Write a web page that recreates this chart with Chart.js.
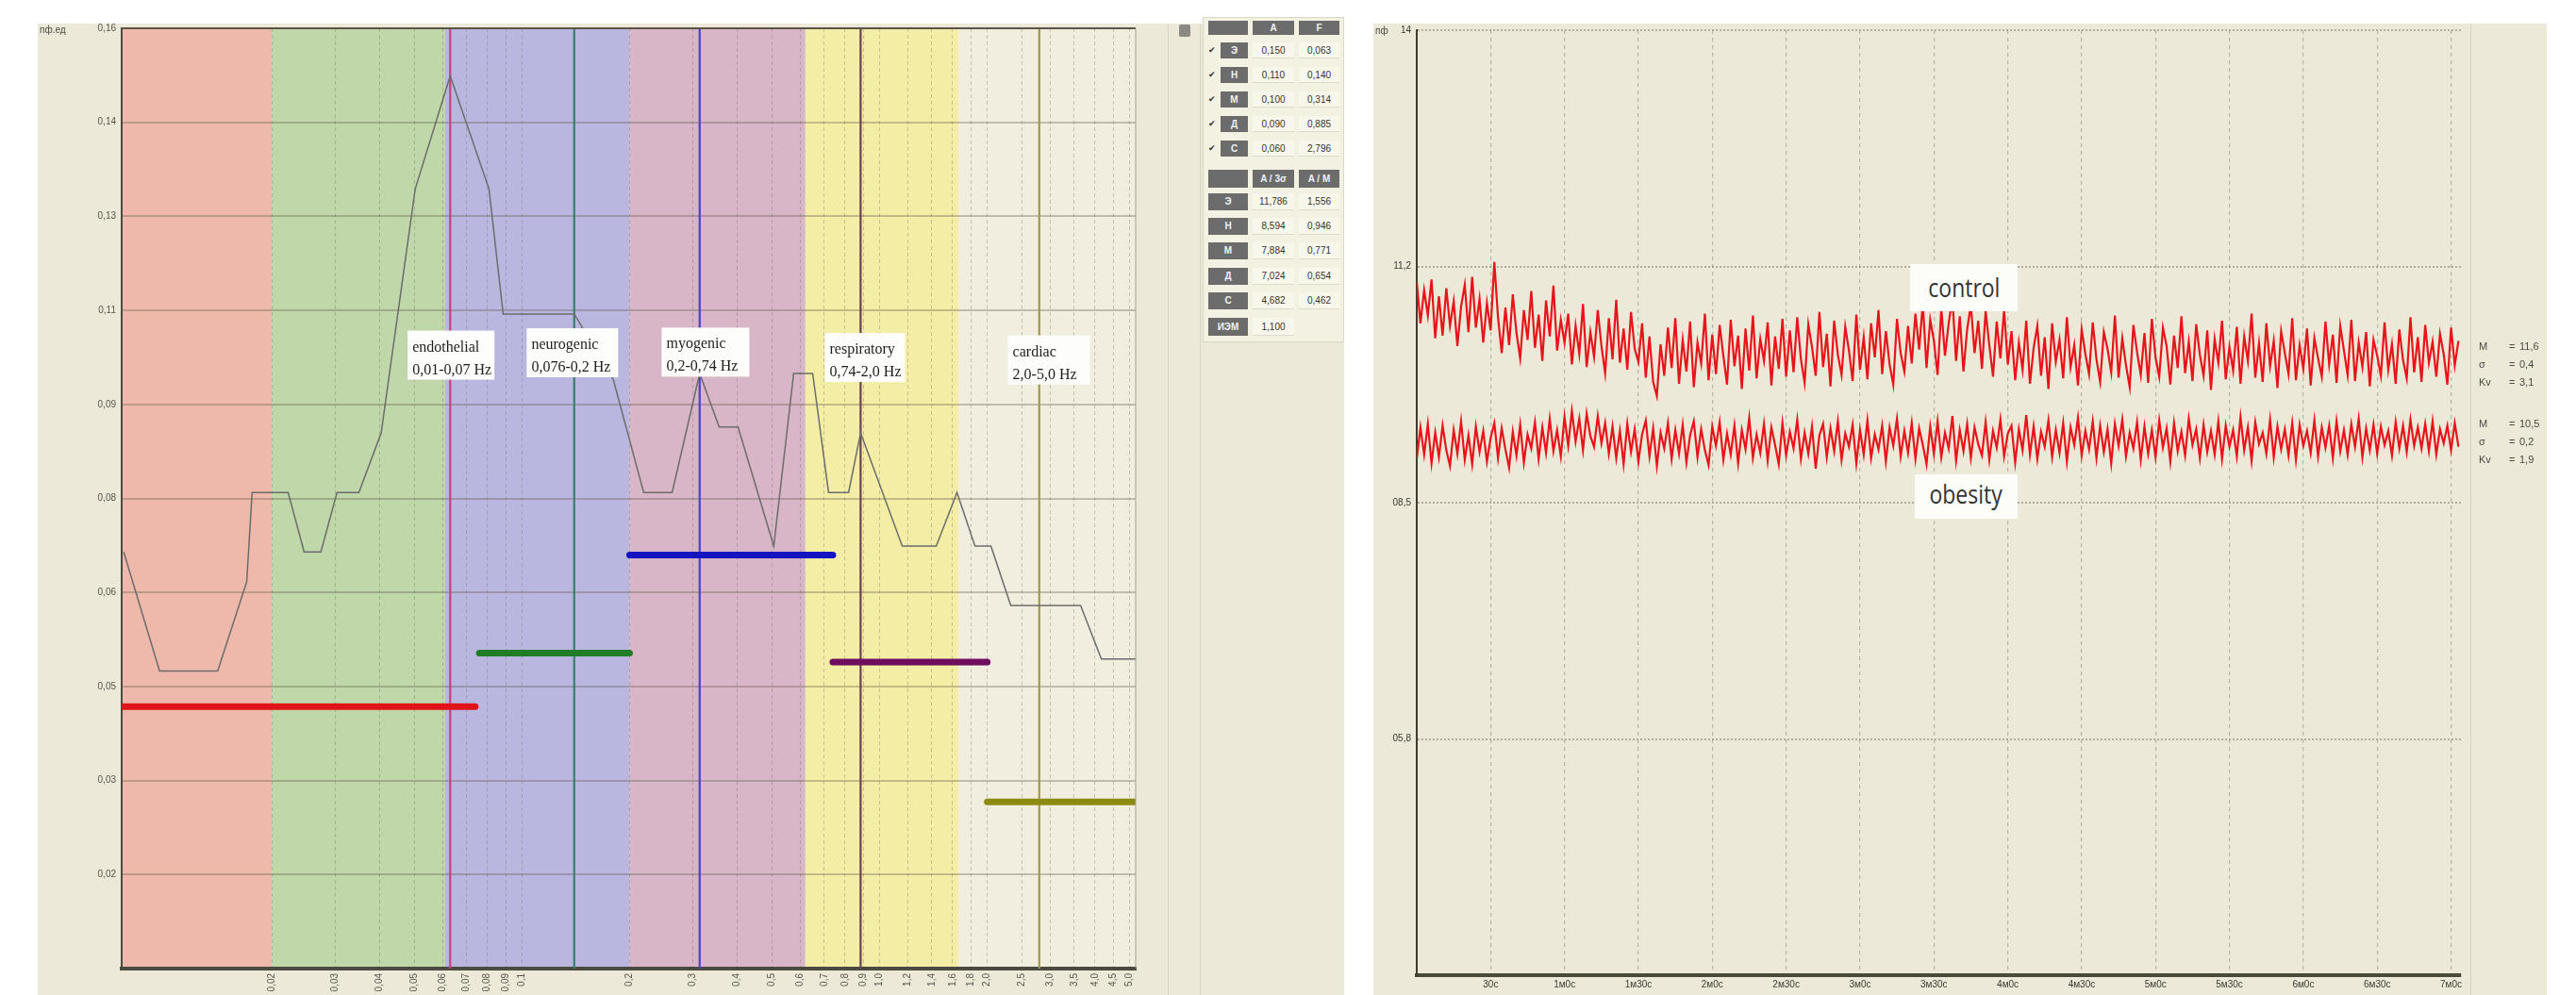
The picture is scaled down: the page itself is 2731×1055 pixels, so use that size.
<!DOCTYPE html>
<html lang="ru">
<head>
<meta charset="utf-8">
<title>ЛДФ: вейвлет-спектр и ПМ</title>
<script src="https://cdn.jsdelivr.net/npm/chart.js@4.4.1/dist/chart.umd.min.js"></script>
<style>
  html, body { margin: 0; padding: 0; background: #fff; }
  body { width: 2731px; height: 1055px; position: relative; overflow: hidden;
         font-family: "Liberation Sans", Arial, sans-serif; }
  .panel { position: absolute; background: #ece9d8; }
  #leftPanel { left: 40px; top: 25px; width: 1385px; height: 1030px; }
  #rightPanel { left: 1456px; top: 25px; width: 1244px; height: 1030px; }
  canvas { position: absolute; }
  #spectrumCanvas { left: 40px; top: 25px; }
  #traceCanvas { left: 1456px; top: 25px; }
  .txt { position: absolute; color: #4a4a44; font-size: 11px; white-space: nowrap; }
  .vline { position: absolute; width: 1px; background: rgba(0,0,0,0.09); }
  #bandTable { position: absolute; left: 1275px; top: 18px; width: 150px; height: 345px;
               background: #f3f1e1; border: 1px solid #dad7c3; box-sizing: border-box; }
  .cell { position: absolute; box-sizing: border-box; font-size: 10px; line-height: 17px;
          text-align: center; color: #333; }
  .cell.dark { background: #6c6c6c; color: #f2f2f2; font-weight: bold; }
  .cell.light { background: #f8f7ec; border-bottom: 1px solid #dcdac8; }
  .chk { position: absolute; font-size: 9px; color: #333; }
  .tag { position: absolute; background: #fcfcf8; color: #333; font-family: "Open Sans", sans-serif;
         font-size: 28px; text-align: center; }
  .tag span { display: inline-block; transform: scaleX(0.82); }
</style>
</head>
<body>
<div class="panel" id="leftPanel"></div>
<div class="panel" id="rightPanel"></div>
<div class="vline" style="left:1238px; top:25px; height:1030px;"></div>
<div class="vline" style="left:1272px; top:25px; height:1030px;"></div>
<div class="vline" style="left:2619px; top:25px; height:1030px;"></div>

<canvas id="spectrumCanvas" width="1220" height="1030" style="width:1220px;height:1030px;"></canvas>
<canvas id="traceCanvas" width="1244" height="1030" style="width:1244px;height:1030px;"></canvas>

<div class="txt" style="left:42px; top:26px; font-size:10px;">пф.ед</div>
<div class="txt" style="left:1458px; top:27px; font-size:10px;">пф</div>
<div style="position:absolute; left:1250px; top:26px; width:12px; height:13px; background:#8a8a82; border-radius:2px;"></div>

<div id="bandTable"></div>
<div id="tags"></div>
<div id="stats"></div>

<script>
// ---------- left: wavelet amplitude spectrum ----------
const bandEdges = [0.0076, 0.02, 0.061, 0.2, 0.62, 1.66, 5.2];

const spectrumFreq = [0.0077, 0.0097, 0.0141, 0.0170, 0.0176, 0.0222, 0.0246, 0.0274, 0.0304, 0.0350,
                      0.0404, 0.0503, 0.063, 0.0809, 0.0886, 0.140, 0.180, 0.219, 0.263, 0.314,
                      0.356, 0.402, 0.506, 0.575, 0.650, 0.720, 0.819, 0.885, 1.157, 1.440,
                      1.646, 1.848, 2.048, 2.327, 3.648, 4.170, 5.20];
const spectrumAmp = [0.070, 0.050, 0.050, 0.065, 0.080, 0.080, 0.070, 0.070, 0.080, 0.080,
                     0.090, 0.131, 0.150, 0.131, 0.110, 0.110, 0.099, 0.080, 0.080, 0.100,
                     0.091, 0.091, 0.071, 0.100, 0.100, 0.080, 0.080, 0.090, 0.071, 0.071,
                     0.080, 0.071, 0.071, 0.061, 0.061, 0.052, 0.052];

const bandNames = ['endothelial', 'neurogenic', 'myogenic', 'respiratory', 'cardiac'];
const bandRanges = ['0,01-0,07 Hz', '0,076-0,2 Hz', '0,2-0,74 Hz', '0,74-2,0 Hz', '2,0-5,0 Hz'];
const bandCodes = ['Э', 'Н', 'М', 'Д', 'С'];

// mean level per band (thick bars)
const levelFrom = [0.0076, 0.076, 0.2, 0.74, 2.0];
const levelTo = [0.074, 0.2, 0.74, 2.0, 5.2];
const levelAmp = [0.044, 0.053, 0.0695, 0.0515, 0.028];

// band maxima (vertical lines + table)
const peakAmp = [0.150, 0.110, 0.100, 0.090, 0.060];
const peakFreq = [0.063, 0.140, 0.314, 0.885, 2.796];

const normBy3Sigma = ['11,786', '8,594', '7,884', '7,024', '4,682'];
const normByMean = ['1,556', '0,946', '0,771', '0,654', '0,462'];
const indexName = 'ИЭМ';
const indexValue = '1,100';

const leftYMax = 0.158;
const leftYTicks = [0, 0.0158, 0.0316, 0.0474, 0.0632, 0.079, 0.0948, 0.1106, 0.1264, 0.1422, 0.158];
const leftYTickLabels = ['', '0,02', '0,03', '0,05', '0,06', '0,08', '0,09', '0,11', '0,13', '0,14', '0,16'];
const leftXTicks = [0.02, 0.03, 0.04, 0.05, 0.06, 0.07, 0.08, 0.09, 0.1, 0.2, 0.3, 0.4, 0.5, 0.6, 0.7,
                    0.8, 0.9, 1, 1.2, 1.4, 1.6, 1.8, 2, 2.5, 3, 3.5, 4, 4.5, 5];
const leftXTickLabels = ['0,02', '0,03', '0,04', '0,05', '0,06', '0,07', '0,08', '0,09', '0,1', '0,2',
                         '0,3', '0,4', '0,5', '0,6', '0,7', '0,8', '0,9', '1,0', '1,2', '1,4', '1,6',
                         '1,8', '2,0', '2,5', '3,0', '3,5', '4,0', '4,5', '5,0'];

// ---------- right: perfusion records ----------
const sampleStep = 1.5; // s
const controlPM = [
  11.02, 10.55, 10.93, 10.64, 11.05,
  10.38, 10.86, 10.41, 10.95, 10.52, 10.80, 10.29, 10.74, 10.99, 10.45, 11.08, 10.50, 10.83, 10.33, 10.78, 10.47,
  11.25,
  10.62, 10.21, 10.73, 10.30, 10.88, 10.44, 10.15, 10.70, 10.36, 10.92, 10.27, 10.65, 10.12, 10.81, 10.40, 10.98, 10.24, 10.59, 10.33,
  10.66, 10.08, 10.52, 10.20, 10.77, 10.05, 10.45, 10.17, 10.70, 10.29, 9.98, 10.61, 10.14, 10.82, 10.10, 10.49, 10.02, 10.68, 10.26, 10.11,
  10.55, 9.93, 10.40, 9.88, 9.72, 10.31, 9.95, 10.50, 10.04, 10.61, 9.86, 10.36, 10.00, 10.57, 9.82, 10.33, 10.09, 10.66, 9.90, 10.42,
  9.97, 10.53, 10.18, 9.85, 10.59, 10.06, 10.41, 9.80, 10.49, 10.01, 10.64, 9.92, 10.37, 10.12, 10.56, 9.84, 10.40, 10.03, 10.60, 9.94,
  10.47, 9.99, 10.62, 10.14, 9.87, 10.54, 10.28, 9.95, 10.68, 10.05, 10.43, 9.83, 10.58, 10.19, 9.96, 10.51, 10.24, 9.89, 10.65, 10.02,
  10.39, 9.91, 10.55, 10.16, 10.70, 9.97, 10.46, 10.08, 9.85, 10.60, 10.21, 10.00, 10.52,
  10.09, 10.66, 10.25, 10.78, 10.04, 10.59, 10.35, 9.96, 10.72, 10.18, 10.55, 10.84, 10.12, 10.63, 10.00, 10.48, 10.76, 10.21, 10.58, 10.03,
  10.69, 10.30, 9.94, 10.57, 10.15, 10.71, 10.08,
  10.46, 9.90, 10.33, 10.02, 10.58, 9.86, 10.27, 10.52, 9.95, 10.39, 9.80, 10.55, 10.11, 10.36, 9.92, 10.62, 10.05, 10.30, 9.84, 10.48,
  10.20, 9.97, 10.56, 10.14, 9.88, 10.45, 10.26, 9.99, 10.64, 9.93, 10.38, 10.07, 9.82, 10.53, 10.22, 9.96, 10.44, 9.87, 10.60, 10.16,
  9.94, 10.50, 10.29, 9.85, 10.41, 10.04, 10.63, 9.98, 10.34, 9.89, 10.54, 10.19, 9.95, 10.47, 9.79, 10.37, 10.10, 10.58, 9.91, 10.28,
  10.01, 10.51, 9.86, 10.40, 10.12, 10.66, 9.93, 10.32, 9.88, 10.55, 10.06, 10.35, 9.81, 10.46, 10.21, 9.97, 10.61, 9.90, 10.30, 10.03,
  10.49, 9.84, 10.38, 10.15, 9.94, 10.57, 10.08, 10.42, 9.87, 10.52, 10.24, 9.96, 10.59, 9.89, 10.33, 10.05, 10.45, 9.83, 10.36, 10.18,
  9.95, 10.56, 10.02, 10.31, 9.86, 10.48, 10.13, 9.92, 10.62, 9.99, 10.39, 9.88, 10.53, 10.10, 10.34, 9.94, 10.43, 10.20, 9.85, 10.50,
  10.07, 10.35
];
const obesityPM = [
  9.00, 9.36, 9.05, 9.40, 8.95, 9.30, 9.02, 9.38, 9.10, 8.92, 9.33, 9.06, 9.43, 8.99, 9.27, 8.94, 9.37, 9.08, 9.32, 8.97,
  9.24, 9.41, 9.01, 9.35, 9.11, 8.90, 9.31, 9.04, 9.39, 8.96, 9.28, 9.12, 9.42, 9.00, 9.36, 9.07, 9.46, 9.09, 9.33, 9.03,
  9.48, 9.15, 9.55, 9.20, 9.46, 9.10, 9.52, 9.26, 9.14, 9.49, 9.18, 9.41, 9.06,
  9.37, 9.01, 9.32, 8.94, 9.40, 9.08, 9.34, 8.97, 9.28, 9.44, 9.03, 9.35, 8.92, 9.30, 9.12, 9.41, 9.00, 9.33, 9.06, 9.39,
  8.96, 9.27, 9.43, 9.02, 9.34, 9.10, 8.93, 9.37, 9.15, 9.42, 8.99, 9.29, 9.05, 9.38, 8.95, 9.33, 9.11, 9.47, 9.01, 9.28,
  9.07, 9.40, 8.98, 9.36, 9.16, 8.94, 9.41, 9.04, 9.31, 9.12, 9.45, 9.00, 9.30, 9.06, 9.37, 8.89, 9.27, 9.40, 9.02, 9.35,
  9.09, 9.43, 8.99, 9.29, 9.14, 9.39, 8.95, 9.33, 9.05, 9.44, 9.01, 9.28, 9.11, 9.38, 8.97, 9.36, 9.15, 9.46, 9.03, 9.32,
  9.07, 9.41, 9.00, 9.35, 9.16, 8.94, 9.37, 9.06, 9.43, 9.02, 9.30, 9.12, 9.49, 8.98, 9.33, 9.09, 9.40, 9.01, 9.36, 9.17,
  9.04, 9.42, 8.99, 9.32, 9.13, 9.45, 9.03, 9.29, 9.38, 8.96, 9.34, 9.10, 9.50, 9.05, 9.37, 9.00, 9.31, 9.14, 9.44, 9.02,
  9.33, 9.07, 9.41, 8.97, 9.36, 9.16, 9.47, 9.04, 9.32, 9.11, 9.43, 9.01, 9.38, 9.08, 9.34, 8.95, 9.40, 9.15, 9.45, 9.03,
  9.30, 9.12, 9.42, 8.99, 9.37, 9.06, 9.33, 9.02, 9.44, 9.13, 9.35, 8.97, 9.41, 9.09, 9.31, 9.04, 9.46, 9.16, 9.34, 9.01,
  9.39, 9.08, 9.32, 9.05, 9.43, 9.00, 9.38, 9.14, 9.33, 9.03, 9.48, 9.10, 9.36, 8.98, 9.42, 9.17, 9.30, 9.06, 9.45, 9.02,
  9.37, 9.11, 9.34, 9.04, 9.41, 8.99, 9.39, 9.15, 9.32, 9.07, 9.44, 9.03, 9.36, 9.13, 9.38, 9.01, 9.43, 9.09, 9.33, 9.05,
  9.40, 9.14, 9.46, 9.02, 9.35, 9.10, 9.39, 9.06, 9.37, 9.16, 9.32, 9.04, 9.42, 9.12, 9.38, 9.08, 9.45, 9.15, 9.36, 9.12,
  9.40, 9.09, 9.43, 9.05, 9.34, 9.18, 9.38, 9.10, 9.41, 9.14
];
const timeTicks = [30, 60, 90, 120, 150, 180, 210, 240, 270, 300, 330, 360, 390, 420];
const timeTickLabels = ['30с', '1м0с', '1м30с', '2м0с', '2м30с', '3м0с', '3м30с', '4м0с',
                        '4м30с', '5м0с', '5м30с', '6м0с', '6м30с', '7м0с'];
const pmTicks = [3.1, 5.8, 8.5, 11.2, 13.9];
const pmTickLabels = ['', '05,8', '08,5', '11,2', '14'];
const statNames = ['M', 'σ', 'Kv'];
const controlStats = ['11,6', '0,4', '3,1'];
const obesityStats = ['10,5', '0,2', '1,9'];

// ---------- styles / layout ----------
const bandColors = ['#eeb9aa', '#bfd7a9', '#b9b7e0', '#d8b5c7', '#f4eda6', '#f1eee0'];
const levelColors = ['#e01418', '#1f7d25', '#1414c0', '#6e0d5e', '#8d8a12'];
const peakColors = ['#c8407e', '#3d7d6e', '#4b3fd0', '#6a4050', '#a09a4a'];
const captionBox = { freq: [0.0479, 0.1031, 0.2458, 0.7031, 2.285],
                     top: [0.1072, 0.1076, 0.1077, 0.1068, 0.1064],
                     width: [92, 97, 93, 85, 87], height: 52 };

const fmt = v => v.toFixed(3).replace('.', ',');

const spectrumDecor = {
    id: 'spectrumDecor',
    beforeDraw(chart) {
        const { ctx, chartArea: a, scales: { x } } = chart;
        ctx.save();
        bandColors.forEach((c, i) => {
            const x1 = x.getPixelForValue(bandEdges[i]);
            const x2 = x.getPixelForValue(bandEdges[i + 1]);
            ctx.fillStyle = c;
            ctx.fillRect(x1, a.top, x2 - x1, a.bottom - a.top);
        });
        ctx.restore();
    },
    afterDatasetsDraw(chart) {
        const { ctx, chartArea: a, scales: { x, y } } = chart;
        ctx.save();
        ctx.strokeStyle = '#5a5548';
        ctx.lineWidth = 2;
        ctx.beginPath();
        ctx.moveTo(a.left, a.top);
        ctx.lineTo(a.right, a.top);
        ctx.stroke();
        ctx.strokeStyle = '#a09f94';
        ctx.lineWidth = 1;
        ctx.beginPath();
        ctx.moveTo(a.right, a.top);
        ctx.lineTo(a.right, a.bottom);
        ctx.stroke();

        ctx.font = '16px "Liberation Serif", "Times New Roman", serif';
        ctx.textBaseline = 'alphabetic';
        bandNames.forEach((name, i) => {
            const bx = x.getPixelForValue(captionBox.freq[i]);
            const by = y.getPixelForValue(captionBox.top[i]);
            ctx.fillStyle = '#fdfdfb';
            ctx.fillRect(bx, by, captionBox.width[i], captionBox.height);
            ctx.fillStyle = '#1e1e1e';
            ctx.fillText(name, bx + 5, by + 22);
            ctx.fillText(bandRanges[i], bx + 5, by + 46);
        });
        ctx.restore();
    }
};

function initSpectrumChart() {
    const ctx = document.getElementById('spectrumCanvas').getContext('2d');
    const datasets = [];
    levelAmp.forEach((amp, i) => datasets.push({
        data: [{ x: levelFrom[i], y: amp }, { x: levelTo[i], y: amp }],
        borderColor: levelColors[i], borderWidth: 7, borderCapStyle: 'round',
        pointRadius: 0, order: 1
    }));
    datasets.push({
        data: spectrumFreq.map((f, i) => ({ x: f, y: spectrumAmp[i] })),
        borderColor: '#6c6c6c', borderWidth: 1.5, pointRadius: 0, order: 2
    });
    peakFreq.forEach((f, i) => datasets.push({
        data: [{ x: f, y: 0 }, { x: f, y: leftYMax }],
        borderColor: peakColors[i], borderWidth: 2.2, pointRadius: 0, order: 3
    }));

    new Chart(ctx, {
        type: 'line',
        data: { datasets },
        plugins: [spectrumDecor],
        options: {
            responsive: false, animation: false, events: [],
            layout: { padding: { left: 0, top: 5, right: 56, bottom: 0 } },
            plugins: { legend: { display: false }, tooltip: { enabled: false } },
            scales: {
                x: {
                    type: 'logarithmic', min: bandEdges[0], max: bandEdges[bandEdges.length - 1],
                    afterBuildTicks: s => { s.ticks = leftXTicks.map(v => ({ value: v })); },
                    afterFit: s => { s.height = 28; s.paddingLeft = 0; s.paddingRight = 0; },
                    grid: { color: 'rgba(110,110,100,0.35)', lineWidth: 1, drawTicks: false },
                    border: { color: '#4a4a40', width: 4, dash: [4, 3] },
                    ticks: {
                        autoSkip: false, minRotation: 90, maxRotation: 90, padding: 5,
                        color: '#55554d', font: { size: 10 },
                        callback: (v, i) => leftXTickLabels[i]
                    }
                },
                y: {
                    min: 0, max: leftYMax,
                    afterBuildTicks: s => { s.ticks = leftYTicks.map(v => ({ value: v })); },
                    afterFit: s => { s.width = 89; s.paddingTop = 0; s.paddingBottom = 0; },
                    grid: { color: 'rgba(95,85,70,0.33)', lineWidth: 2, drawTicks: false },
                    border: { color: '#4a4a40', width: 2 },
                    ticks: { padding: 6, color: '#55554d', font: { size: 10 },
                             callback: (v, i) => leftYTickLabels[i] }
                }
            }
        }
    });
}

function initTraceChart() {
    const ctx = document.getElementById('traceCanvas').getContext('2d');
    const toPoints = arr => arr.map((v, i) => ({ x: i * sampleStep, y: v }));
    new Chart(ctx, {
        type: 'line',
        data: {
            datasets: [
                { label: 'control', data: toPoints(controlPM), borderColor: '#e8141b', borderWidth: 2.2, pointRadius: 0 },
                { label: 'obesity', data: toPoints(obesityPM), borderColor: '#e8141b', borderWidth: 2.2, pointRadius: 0 }
            ]
        },
        options: {
            responsive: false, animation: false, events: [],
            layout: { padding: { left: 0, top: 7, right: 91, bottom: 0 } },
            plugins: { legend: { display: false }, tooltip: { enabled: false } },
            scales: {
                x: {
                    type: 'linear', min: 0, max: 424,
                    afterBuildTicks: s => { s.ticks = timeTicks.map(v => ({ value: v })); },
                    afterFit: s => { s.height = 21; s.paddingLeft = 0; s.paddingRight = 0; },
                    grid: { color: 'rgba(120,120,100,0.45)', lineWidth: 1.2, drawTicks: false },
                    border: { color: '#4a4a3a', width: 4, dash: [4, 4] },
                    ticks: { maxRotation: 0, padding: 4, color: '#3a3a34', font: { size: 10 },
                             callback: (v, i) => timeTickLabels[i] }
                },
                y: {
                    min: pmTicks[0], max: pmTicks[pmTicks.length - 1],
                    afterBuildTicks: s => { s.ticks = pmTicks.map(v => ({ value: v })); },
                    afterFit: s => { s.width = 46; s.paddingTop = 0; s.paddingBottom = 0; },
                    grid: { color: 'rgba(130,128,105,0.55)', lineWidth: 2, drawTicks: false },
                    border: { color: '#3c3c30', width: 2, dash: [2, 2] },
                    ticks: { padding: 6, color: '#3a3a34', font: { size: 10 },
                             callback: (v, i) => pmTickLabels[i] }
                }
            }
        }
    });
}

function cell(host, x, y, w, h, text, cls) {
    const d = document.createElement('div');
    d.className = 'cell ' + cls;
    d.style.cssText = `left:${x}px;top:${y}px;width:${w}px;height:${h}px;line-height:${h}px;`;
    d.textContent = text;
    host.appendChild(d);
}

function renderTable() {
    const host = document.getElementById('bandTable');
    const ox = 1275, oy = 18;
    const c0 = 1280 - ox, c0n = 1293 - ox, c1 = 1327 - ox, c2 = 1376 - ox;
    const top1 = [21, 44, 70, 96, 122, 148].map(v => v - oy);
    const top2 = [179, 204, 230, 256, 283, 309, 336].map(v => v - oy);

    cell(host, c0, top1[0], 42, 15, '', 'dark');
    cell(host, c1, top1[0], 44, 15, 'A', 'dark');
    cell(host, c2, top1[0], 43, 15, 'F', 'dark');
    bandCodes.forEach((code, i) => {
        const y = top1[i + 1];
        const chk = document.createElement('div');
        chk.className = 'chk';
        chk.style.cssText = `left:${c0}px;top:${y + 3}px;`;
        chk.textContent = '✔';
        host.appendChild(chk);
        cell(host, c0n, y, 29, 17, code, 'dark');
        cell(host, c1, y, 44, 17, fmt(peakAmp[i]), 'light');
        cell(host, c2, y, 43, 17, fmt(peakFreq[i]), 'light');
    });

    cell(host, c0, top2[0], 42, 19, '', 'dark');
    cell(host, c1, top2[0], 44, 19, 'A / 3σ', 'dark');
    cell(host, c2, top2[0], 43, 19, 'A / M', 'dark');
    bandCodes.forEach((code, i) => {
        const y = top2[i + 1];
        cell(host, c0, y, 42, 18, code, 'dark');
        cell(host, c1, y, 44, 18, normBy3Sigma[i], 'light');
        cell(host, c2, y, 43, 18, normByMean[i], 'light');
    });
    cell(host, c0, top2[6], 42, 19, indexName, 'dark');
    cell(host, c1, top2[6], 44, 19, indexValue, 'light');
}

function renderTraceNotes() {
    const tags = document.getElementById('tags');
    tags.innerHTML = `
        <div class="tag" style="left:2025px; top:280px; width:114px; height:50px; line-height:48px;"><span>control</span></div>
        <div class="tag" style="left:2030px; top:503px; width:109px; height:47px; line-height:40px;"><span>obesity</span></div>`;

    const stats = document.getElementById('stats');
    const block = (vals, top) => statNames.map((n, i) => `
        <div class="txt" style="left:2628px; top:${top + i * 19}px;">${n}</div>
        <div class="txt" style="left:2660px; top:${top + i * 19}px;">=</div>
        <div class="txt" style="left:2671px; top:${top + i * 19}px;">${vals[i]}</div>`).join('');
    stats.innerHTML = block(controlStats, 361) + block(obesityStats, 443);
}

renderTable();
renderTraceNotes();
initSpectrumChart();
initTraceChart();
</script>
</body>
</html>
